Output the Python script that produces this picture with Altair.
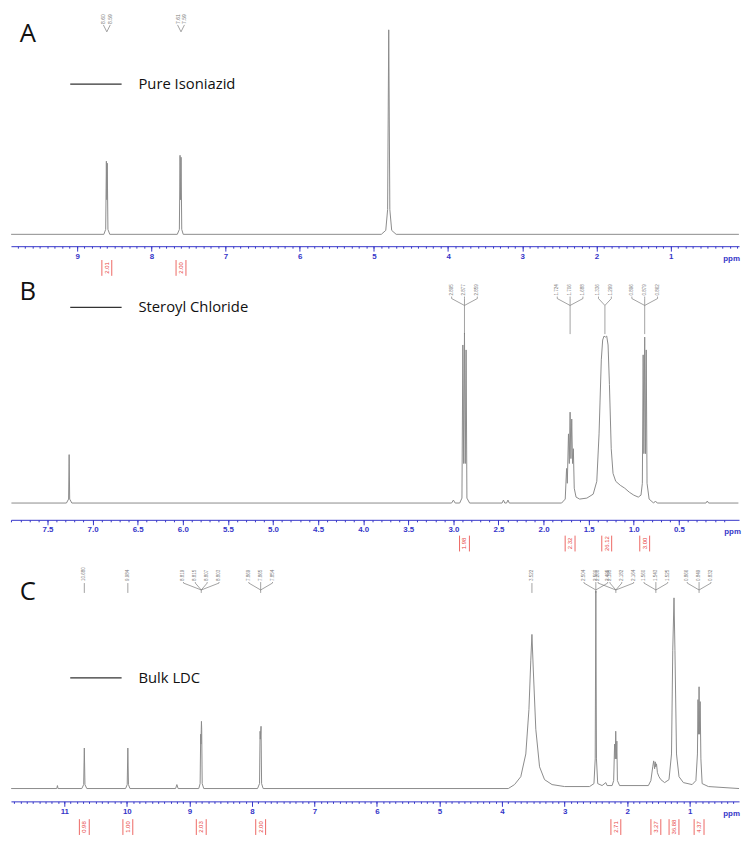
import altair as alt
import pandas as pd

# ---------------- data (ppm, intensity) ----------------
A_SPEC = [(9.89, 0), (8.64, 0), (8.615, 5), (8.606, 74), (8.600, 35), (8.594, 72), (8.585, 5), (8.56, 0),
          (7.65, 0), (7.622, 5), (7.613, 80), (7.606, 35), (7.599, 78), (7.59, 5), (7.57, 0),
          (4.90, 0), (4.84, 4), (4.815, 25), (4.80, 207), (4.785, 25), (4.76, 4), (4.70, 0), (0.08, 0)]

B_SPEC = [(7.90, 0), (7.29, 0), (7.266, 4), (7.26, 49), (7.254, 4), (7.23, 0),
          (3.02, 0), (3.00, 3), (2.98, 0), (2.93, 0), (2.905, 5), (2.895, 160), (2.886, 40), (2.877, 172),
          (2.868, 40), (2.859, 155), (2.85, 5), (2.82, 0),
          (2.46, 0), (2.445, 3), (2.43, 0), (2.41, 0), (2.395, 3), (2.38, 0),
          (1.80, 0), (1.76, 4), (1.745, 35), (1.737, 20), (1.724, 70), (1.715, 40), (1.706, 92), (1.697, 45),
          (1.688, 85), (1.679, 40), (1.670, 55), (1.66, 15), (1.64, 6), (1.60, 4), (1.52, 5), (1.45, 9),
          (1.41, 22), (1.385, 70), (1.36, 145), (1.345, 165), (1.33, 169), (1.315, 168), (1.30, 169), (1.285, 160),
          (1.27, 120), (1.25, 55), (1.23, 30), (1.20, 22), (1.15, 18), (1.10, 15), (1.05, 11), (1.00, 8), (0.95, 6),
          (0.92, 8), (0.905, 20), (0.896, 150), (0.888, 50), (0.879, 168), (0.870, 50), (0.862, 155),
          (0.853, 20), (0.83, 4), (0.78, 0), (0.76, 2), (0.74, 0), (0.20, 0), (0.185, 2), (0.17, 0), (-0.16, 0)]

C_SPEC = [(11.85, 0), (11.12, 0), (11.11, 3), (11.10, 0), (10.72, 0), (10.69, 4), (10.68, 41), (10.67, 4), (10.64, 0),
          (10.02, 0), (9.994, 4), (9.984, 41), (9.974, 4), (9.95, 0), (9.22, 0), (9.20, 4), (9.18, 0),
          (8.85, 0), (8.828, 5), (8.819, 55), (8.815, 45), (8.807, 68), (8.803, 60), (8.795, 5), (8.77, 0),
          (7.91, 0), (7.878, 5), (7.869, 58), (7.865, 50), (7.854, 63), (7.845, 5), (7.82, 0),
          (3.90, 0), (3.80, 4), (3.70, 12), (3.62, 35), (3.57, 80), (3.54, 130), (3.522, 156), (3.50, 120),
          (3.46, 60), (3.40, 22), (3.32, 9), (3.20, 4), (3.00, 2), (2.60, 2), (2.53, 5), (2.51, 30), (2.50, 200),
          (2.49, 30), (2.47, 5), (2.40, 3), (2.34, 6), (2.32, 3), (2.24, 3), (2.215, 8), (2.20, 45), (2.19, 30),
          (2.182, 58), (2.173, 30), (2.164, 48), (2.155, 8), (2.12, 3), (1.66, 3), (1.62, 8), (1.59, 22),
          (1.575, 28), (1.56, 20), (1.55, 27), (1.543, 22), (1.53, 25), (1.515, 16), (1.49, 12), (1.46, 9),
          (1.40, 6), (1.33, 9), (1.29, 35), (1.27, 140), (1.25, 193), (1.235, 140), (1.21, 35), (1.17, 12),
          (1.10, 6), (0.96, 4), (0.90, 8), (0.875, 35), (0.866, 90), (0.858, 55), (0.849, 103), (0.840, 55),
          (0.832, 88), (0.82, 30), (0.80, 5), (0.70, 2), (0.21, 0)]

# peak label groups: (labels, centre ppm)
A_PEAKS = [(["8.60", "8.59"], 8.600), (["7.61", "7.59"], 7.600)]
B_PEAKS = [(["2.895", "2.877", "2.859"], 2.877), (["1.724", "1.706", "1.688"], 1.706),
           (["1.336", "1.299"], 1.32), (["0.896", "0.879", "0.862"], 0.879)]
C_PEAKS = [(["10.680"], 10.680), (["9.984"], 9.984), (["8.819", "8.815", "8.807", "8.803"], 8.81),
           (["7.869", "7.865", "7.854"], 7.86), (["3.522"], 3.522), (["2.504", "2.500", "2.495"], 2.50),
           (["2.200", "2.195", "2.182", "2.164"], 2.18), (["1.560", "1.543", "1.525"], 1.54),
           (["0.866", "0.849", "0.832"], 0.849)]

A_INT = [("2.01", 8.60), ("2.00", 7.60)]
B_INT = [("1.98", 2.877), ("2.32", 1.706), ("26.12", 1.30), ("3.00", 0.879)]
C_INT = [("0.98", 10.68), ("1.00", 9.984), ("2.03", 8.81), ("2.00", 7.86), ("2.71", 2.18),
         ("3.27", 1.54), ("36.88", 1.25), ("4.37", 0.849)]

A_MAJOR = [9, 8, 7, 6, 5, 4, 3, 2, 1]
B_MAJOR = [7.5, 7.0, 6.5, 6.0, 5.5, 5.0, 4.5, 4.0, 3.5, 3.0, 2.5, 2.0, 1.5, 1.0, 0.5]
C_MAJOR = [11, 10, 9, 8, 7, 6, 5, 4, 3, 2, 1]

# ---------------- style ----------------
W = 737
LINE = "#8a8a8a"
BLUE = "#3434c8"
RED = "#e8413c"
LABG = "#7a7a7a"


def minor_ticks(lo, hi):
    start = int(lo * 10) + 1
    end = int(hi * 10)
    return [round(k / 10, 1) for k in range(start, end + 1)]


def panel(spec, lo, hi, ymin, height, major, fmt, letter, letter_y, legend, legend_y,
          peaks, lab_step, lab_font, geom, integrals, int_y, title_x):
    xs = alt.Scale(domain=[lo, hi], reverse=True, nice=False, zero=False)
    ys = alt.Scale(domain=[ymin, ymin + height], nice=False, zero=False)
    pxppm = W / (hi - lo)

    def yd(py):  # pixel from panel top -> data units
        return ymin + height - py

    def xd(px):  # pixel from panel left -> ppm
        return hi - px / pxppm

    X = lambda f="ppm": alt.X(f + ":Q", scale=xs, axis=None)
    Y = lambda f="yy": alt.Y(f + ":Q", scale=ys, axis=None)

    sdf = pd.DataFrame({"ppm": [p for p, _ in spec], "yy": [v for _, v in spec],
                        "i": list(range(len(spec)))})

    line = alt.Chart(sdf).mark_line(color=LINE, strokeWidth=1).encode(
        x=alt.X("ppm:Q", scale=xs,
                axis=alt.Axis(values=major, format=fmt, orient="bottom", grid=False,
                              domainColor=BLUE, tickColor=BLUE, tickSize=5, domainWidth=1,
                              labelColor=BLUE, labelFont="Liberation Sans", labelFontWeight="bold",
                              labelFontSize=8, labelPadding=1, labelFlush=False,
                              title="ppm", titleColor=BLUE, titleFont="Liberation Sans",
                              titleFontWeight="bold", titleFontSize=8, titleX=title_x, titleY=14,
                              titleAlign="center", titleBaseline="alphabetic")),
        y=Y(),
        order="i:Q",
    )

    minor = alt.Chart(sdf).mark_point(opacity=0).encode(
        x=alt.X("ppm:Q", scale=xs,
                axis=alt.Axis(values=minor_ticks(lo, hi), labels=False, orient="bottom",
                              domain=False, tickColor=BLUE, tickSize=2, grid=False, title=None)),
        y=Y(),
    )

    # peak labels and connector lines
    t_bot, v1, v2, v3 = geom
    labs, segs = [], []
    sid = 0
    for names, centre in peaks:
        n = len(names)
        for k, name in enumerate(names):
            pos = centre + ((n - 1) / 2 - k) * lab_step / pxppm
            labs.append({"ppm": pos, "yy": yd(t_bot), "txt": name})
            if n == 1:
                segs += [{"ppm": pos, "yy": yd(v1), "s": sid, "o": 0},
                         {"ppm": pos, "yy": yd(v3), "s": sid, "o": 1}]
            else:
                segs += [{"ppm": pos, "yy": yd(t_bot + 1), "s": sid, "o": 0},
                         {"ppm": pos, "yy": yd(v1), "s": sid, "o": 1},
                         {"ppm": centre, "yy": yd(v2), "s": sid, "o": 2}]
            sid += 1
        if n > 1:
            segs += [{"ppm": centre, "yy": yd(v2), "s": sid, "o": 0},
                     {"ppm": centre, "yy": yd(v3), "s": sid, "o": 1}]
            sid += 1
    ldf = pd.DataFrame(labs)
    cdf = pd.DataFrame(segs)

    labels = alt.Chart(ldf).mark_text(angle=270, align="left", baseline="middle", fontSize=lab_font,
                                      font="Liberation Sans", color=LABG).encode(
        x=X(), y=Y(), text="txt:N")
    conns = alt.Chart(cdf).mark_line(color=LABG, strokeWidth=0.7).encode(
        x=X(), y=Y(), detail="s:N", order="o:Q")

    idf = pd.DataFrame({"txt": [t for t, _ in integrals], "ppm": [p for _, p in integrals]})
    idf["yy"] = yd(int_y)
    idf["y1"] = yd(int_y - 8)
    idf["y2"] = yd(int_y + 8)
    itext = alt.Chart(idf).mark_text(angle=270, align="center", baseline="middle", fontSize=6,
                                     font="Liberation Sans", color=RED).encode(
        x=X(), y=Y(), text="txt:N")
    ibr_l = alt.Chart(idf).mark_rule(color=RED, strokeWidth=0.8, xOffset=-5).encode(
        x=X(), y=Y("y1"), y2="y2:Q")
    ibr_r = alt.Chart(idf).mark_rule(color=RED, strokeWidth=0.8, xOffset=5).encode(
        x=X(), y=Y("y1"), y2="y2:Q")

    one = pd.DataFrame({"t": [letter], "l": [legend],
                        "lx": [xd(17)], "ly": [yd(letter_y)],
                        "g1": [xd(60)], "g2": [xd(112)], "gt": [xd(129)], "gy": [yd(legend_y)]})
    let = alt.Chart(one).mark_text(align="center", baseline="middle", fontSize=26, font="Open Sans",
                                   color="#111").encode(x=X("lx"), y=Y("ly"), text="t:N")
    leg_line = alt.Chart(one).mark_rule(color="#333", strokeWidth=1.2).encode(
        x=X("g1"), x2="g2:Q", y=Y("gy"))
    leg_text = alt.Chart(one).mark_text(align="left", baseline="middle", fontSize=15, font="Open Sans",
                                        color="#111").encode(x=X("gt"), y=Y("gy"), text="l:N")

    return alt.layer(line, minor, conns, labels, ibr_l, ibr_r, itext, let, leg_line, leg_text).resolve_axis(
        x="independent").properties(width=W, height=height)


pa = panel(A_SPEC, 0.078, 9.892, -12, 236, A_MAJOR, "d", "A", 21, "Pure Isoniazid", 72,
           A_PEAKS, 7, 5, (11, 12, 19, 19), A_INT, 258, 729)
pb = panel(B_SPEC, -0.167, 7.905, -17, 243, B_MAJOR, ".1f", "B", 12, "Steroyl Chloride", 28,
           B_PEAKS, 13, 4.6, (16, 19, 26, 55), B_INT, 267, 730)
pc = panel(C_SPEC, 0.21, 11.853, -13, 251, C_MAJOR, "d", "C", 39, "Bulk LDC", 126,
           C_PEAKS, 12, 4.6, (28, 30, 37, 40), C_INT, 277, 729)

chart = alt.vconcat(pa, pb, pc, spacing=34).properties(
    bounds="flush", padding=0, background="white"
).configure_view(stroke=None)

chart.save("out.html", embed_options={"renderer": "svg", "actions": False})
